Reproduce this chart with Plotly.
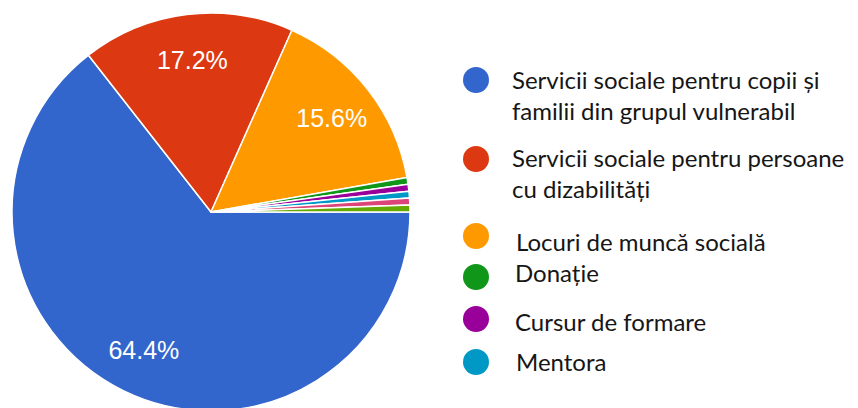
import plotly.graph_objects as go

# Data
labels = [
    "Servicii sociale pentru copii și\nfamilii din grupul vulnerabil",
    "Servicii sociale pentru persoane\ncu dizabilități",
    "Locuri de muncă socială",
    "Donație",
    "Cursur de formare",
    "Mentora",
    "Altele 1",
    "Altele 2",
]
values = [116, 31, 28, 1, 1, 1, 1, 1]
colors = ["#3366cc", "#dc3912", "#ff9900", "#109618", "#990099",
          "#0099c6", "#dd4477", "#66aa00"]
legend_count = 6  # legend in reference shows the first six categories

W, H = 858, 408
OFF = 8  # page body margin of the html page
def px(x):
    return (x - OFF) / W
def py(y):
    return 1 - (y - OFF) / H

flat_labels = [l.replace("\n", " ") for l in labels]
texttemplates = ["%{percent:.1%}" if v / sum(values) > 0.05 else "" for v in values]
dom = dict(x=[px(11), px(411)], y=[py(411), py(13)])

fig = go.Figure()
# Filled pie
fig.add_trace(go.Pie(
    labels=flat_labels, values=values, sort=False,
    direction="clockwise", rotation=90,
    marker=dict(colors=colors, line=dict(color="white", width=1.5)),
    textinfo="none", domain=dom, showlegend=False,
    hoverinfo="label+percent",
))
# Transparent ring overlay carrying the percentage labels
fig.add_trace(go.Pie(
    labels=flat_labels, values=values, sort=False,
    direction="clockwise", rotation=90, hole=0.54,
    marker=dict(colors=["rgba(0,0,0,0)"] * len(values), line=dict(width=0)),
    texttemplate=texttemplates, textposition="inside",
    insidetextorientation="horizontal",
    textfont=dict(family="Liberation Sans, Arial", size=25, color="white"),
    domain=dom, showlegend=False, hoverinfo="skip",
))

# Custom legend (circles + wrapped text), styled like the reference
legend_y = [80, 159, 236, 277, 319, 362]     # pixel centres of markers
text_x = [510, 510, 514, 513, 513, 514]
text_cy = [95, 173, 241, 272, 321, 361]      # pixel centres of text blocks
shapes = []
annotations = []
for i in range(legend_count):
    cy = legend_y[i]
    r = 13
    shapes.append(dict(
        type="circle", xref="paper", yref="paper",
        x0=px(476 - r), x1=px(476 + r),
        y0=py(cy + r), y1=py(cy - r),
        fillcolor=colors[i], line=dict(width=0),
    ))
    annotations.append(dict(
        x=px(text_x[i]), y=py(text_cy[i]), xref="paper", yref="paper",
        text=labels[i].replace("\n", "<br>"), showarrow=False,
        xanchor="left", yanchor="middle", align="left",
        font=dict(family="Lato, Carlito, Calibri, sans-serif", size=24, color="#161616"),
    ))

fig.update_layout(
    width=W, height=H,
    margin=dict(l=0, r=0, t=0, b=0),
    paper_bgcolor="white",
    plot_bgcolor="white",
    shapes=shapes,
    annotations=annotations,
)

fig.write_html("out.html")
